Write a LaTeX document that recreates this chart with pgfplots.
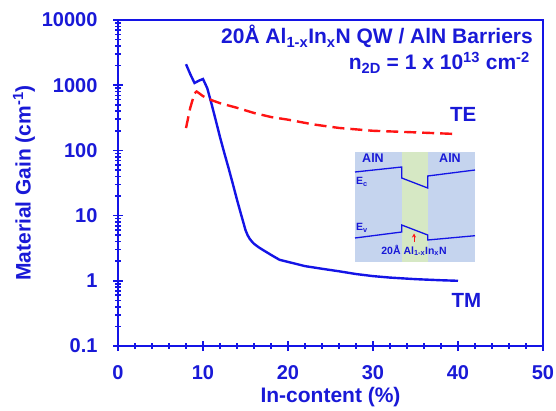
\documentclass[border=0pt]{standalone}
\usepackage{pgfplots}
\pgfplotsset{compat=1.18}
\usetikzlibrary{arrows.meta}
\usepackage{fontspec}
\setmainfont{Liberation Sans}
\definecolor{myblue}{RGB}{20,20,230}
\definecolor{txtblue}{RGB}{25,25,215}
\definecolor{myred}{RGB}{255,20,20}
\definecolor{insetblue}{RGB}{197,212,238}
\definecolor{insetgreen}{RGB}{214,232,196}
\begin{document}
\begin{tikzpicture}
\path[use as bounding box] (0pt,0pt) rectangle (556pt,410pt);
\begin{axis}[
  at={(118pt,64pt)}, anchor=south west, scale only axis,
  width=425pt, height=326pt,
  xmin=0, xmax=50, ymin=0.1, ymax=10000, ymode=log,
  axis line style={myblue, line width=2pt},
  every tick/.style={myblue, line width=1.6pt},
  tick align=center, major tick length=10pt, minor tick length=6pt,
  xtick={0,10,20,30,40,50}, xticklabels={0,10,20,30,40,50},
  minor x tick num=4,
  ytick={0.1,1,10,100,1000,10000}, yticklabels={0.1,1,10,100,1000,10000},
  minor ytick={0.2,0.3,0.4,0.5,0.6,0.7,0.8,0.9,2,3,4,5,6,7,8,9,20,30,40,50,60,70,80,90,200,300,400,500,600,700,800,900,2000,3000,4000,5000,6000,7000,8000,9000},
  tick pos=left,
  ticklabel style={font=\fontsize{20}{20}\selectfont\bfseries, text=txtblue},
  /pgf/number format/assume math mode=true,
  xticklabel style={yshift=-11pt},
  yticklabel style={xshift=-12pt},
  xlabel={In-content (\%)},
  ylabel={Material Gain (cm\textsuperscript{-1})},
  label style={font=\fontsize{21}{21}\selectfont\bfseries, text=txtblue},
  xlabel style={at={([yshift=-51pt]axis description cs:0.5,0)}, anchor=center},
  ylabel style={at={([xshift=-94pt]axis description cs:0,0.5)}, anchor=center},
]
\addplot[myblue, line width=2.4pt] coordinates {
(8,2100) (8.5,1480) (9,1080) (9.5,1170) (10,1245) (10.5,900) (11,520) (11.5,290)
(12,160) (12.5,92) (13,54) (13.5,31) (14,17.5) (14.5,10.2) (15,6.0) (15.25,5.0) (15.5,4.4)
(15.75,4.0) (16,3.7) (16.5,3.3) (17,3.0) (18,2.5) (19,2.1) (20,1.95) (22,1.68) (24,1.53)
(26,1.4) (28,1.27) (30,1.18) (32,1.12) (35,1.06) (38,1.02) (40,1.0)};
\addplot[myred, line width=2.4pt, dash pattern=on 12pt off 6pt] coordinates {
(8,220) (8.5,450) (9,750) (9.25,800) (9.5,760) (10,680) (11,590) (12,530)
(14,450) (16,375) (18,325) (20,296) (23,250) (26,221) (30,200) (35,189) (40,178)};
\end{axis}
\begin{scope}[yshift=410pt, x=1pt, y=-1pt]
\fill[insetblue] (355,152) rectangle (475,262);
\fill[insetgreen] (401.7,152) rectangle (427.7,262);
\draw[myblue, line width=1.3pt] (355,172) -- (401.7,167) -- (401.7,178) -- (427.7,188) -- (427.7,176) -- (475,170);
\draw[myblue, line width=1.3pt] (355,238) -- (401.7,232) -- (401.7,225) -- (427.7,235) -- (427.7,240) -- (475,235.7);
\begin{scope}[every node/.style={font=\fontsize{12.5}{12.5}\selectfont\bfseries, text=txtblue, inner sep=0pt}]
\node at (373,158) {AlN};
\node at (450,158) {AlN};
\node[anchor=west, font=\fontsize{10.5}{10.5}\selectfont\bfseries] at (356,182) {E\textsubscript{c}};
\node[anchor=west, font=\fontsize{10.5}{10.5}\selectfont\bfseries] at (356,228) {E\textsubscript{v}};
\node[font=\fontsize{10.5}{10.5}\selectfont\bfseries] at (414,250.5) {20Å Al\textsubscript{1-x}In\textsubscript{x}N};
\end{scope}
\draw[myred, line width=1pt, -{Stealth[length=4pt,width=4pt]}] (414,242) -- (414,233.5);
\begin{scope}[every node/.style={text=txtblue, inner sep=0pt}]
\node[anchor=base east, font=\fontsize{21}{21}\selectfont\bfseries] at (533,44) {20Å Al\textsubscript{1-x}In\textsubscript{x}N QW / AlN Barriers};
\node[anchor=base east, font=\fontsize{21}{21}\selectfont\bfseries] at (530,70) {n\textsubscript{2D} = 1 x 10\textsuperscript{13} cm\textsuperscript{-2}};
\node[anchor=base west, font=\fontsize{20.5}{20.5}\selectfont\bfseries] at (450,122) {TE};
\node[anchor=base west, font=\fontsize{20.5}{20.5}\selectfont\bfseries] at (451.5,307) {TM};
\end{scope}
\end{scope}
\end{tikzpicture}
\end{document}
